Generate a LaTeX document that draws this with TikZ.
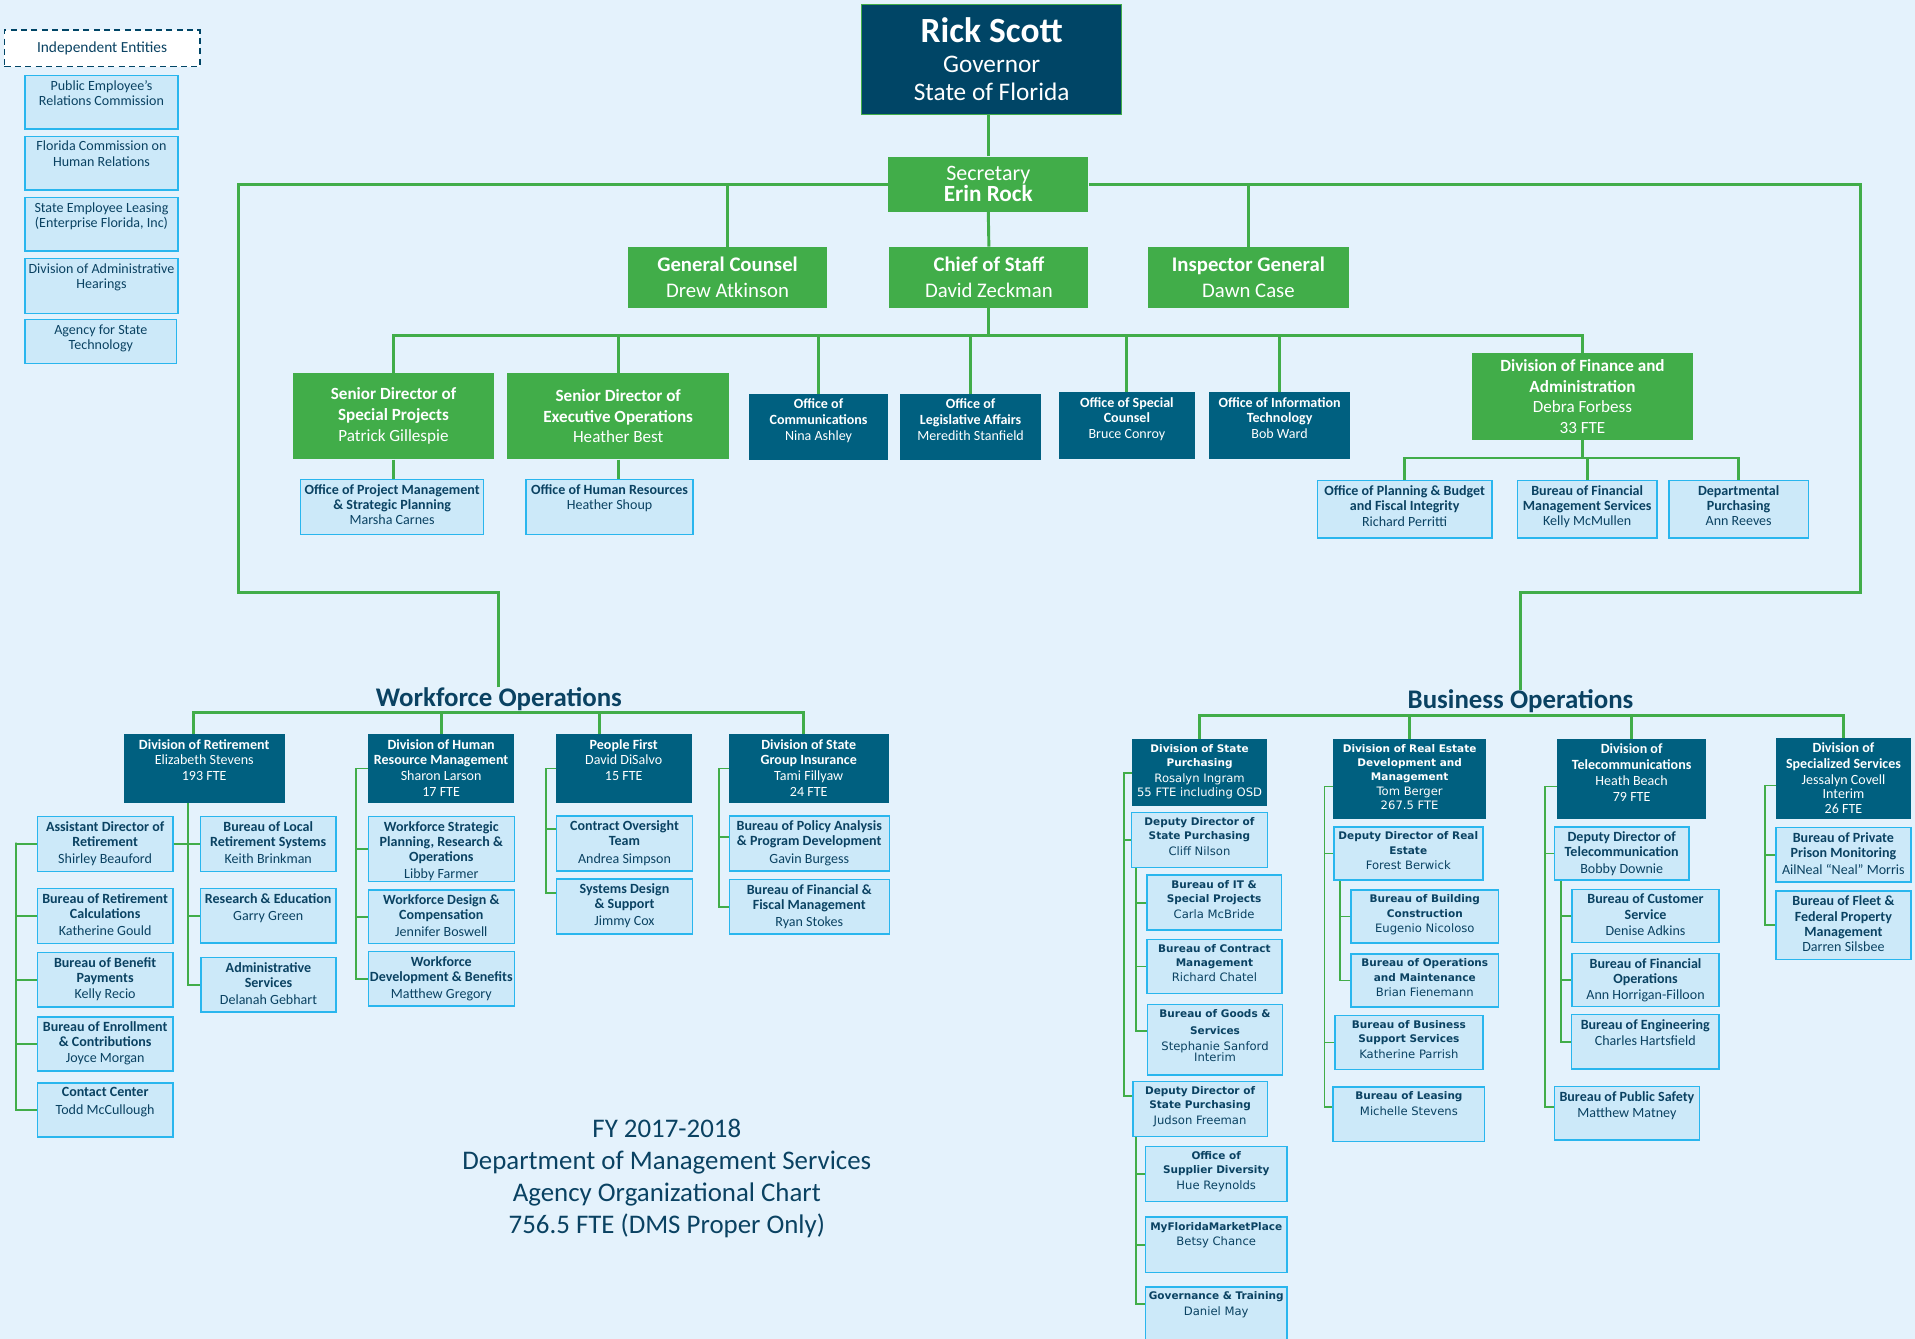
\documentclass[tikz,border=0pt]{standalone}
\usepackage{fontspec}
\setmainfont{Carlito}
\newfontfamily\verdanalike{DejaVu Sans}
\usepackage{tikz}
\usetikzlibrary{calc}
\definecolor{pagebg}{RGB}{228,242,252}
\definecolor{govnavy}{RGB}{0,69,102}
\definecolor{divteal}{RGB}{0,96,128}
\definecolor{orggreen}{RGB}{65,173,73}
\definecolor{unitfill}{RGB}{204,233,249}
\definecolor{unitline}{RGB}{41,182,238}
\definecolor{unitink}{RGB}{10,66,98}
% fixed size box text, set from the top
\newcommand{\boxtxt}[3]{\parbox[c][\dimexpr #2pt-8pt\relax][t]{\dimexpr #1pt-2pt\relax}{\centering #3}}
% bold titles in the wide-font boxes
\newcommand{\vtitle}[1]{{\fontsize{8.6}{11.8}\selectfont\bfseries #1}}

\begin{document}
\begin{tikzpicture}[x=1pt, y=-1pt,
  trunk/.style={draw=orggreen, line width=2.4pt},
  branch/.style={draw=orggreen, line width=1.5pt},
  govbox/.style={rectangle, fill=govnavy, draw=orggreen, line width=1pt, text=white,
                 anchor=north west, inner sep=0pt, align=center,
                 font=\fontsize{20.7}{23}\selectfont},
  gbox/.style={rectangle, fill=orggreen, text=white, anchor=north west,
               inner sep=0pt, align=center},
  dbox/.style={rectangle, fill=divteal, text=white, anchor=north west,
               inner xsep=1pt, inner ysep=4pt, font=\fontsize{11.5}{13}\selectfont},
  ubox/.style={rectangle, draw=unitline, fill=unitfill, line width=1.2pt, text=unitink,
               anchor=north west, inner xsep=1pt, inner ysep=4pt,
               font=\fontsize{11.5}{12.5}\selectfont},
  vdiv/.style={dbox, font=\verdanalike\fontsize{9.5}{11.8}\selectfont},
  vunit/.style={ubox, font=\verdanalike\fontsize{9.5}{11.8}\selectfont},
  optitle/.style={text=unitink, font=\fontsize{22}{26}\selectfont\bfseries, inner sep=0pt},
]
\useasboundingbox (0,0) rectangle (1568,1096);
\fill[pagebg] (0,0) rectangle (1568,1096);

% independent entities
\node[draw=govnavy, dash pattern=on 5pt off 3.5pt, line width=1.2pt, fill=white,
      minimum width=160pt, minimum height=30pt, anchor=north west, text=unitink,
      font=\fontsize{12.6}{14}\selectfont] (ind) at (3,24) {Independent Entities};
\node[ubox] (perc) at (20,61)  {\boxtxt{125}{44}{Public Employee’s\\Relations Commission}};
\node[ubox] (fchr) at (20,111) {\boxtxt{125}{44}{Florida Commission on\\Human Relations}};
\node[ubox] (sel)  at (20,161) {\boxtxt{125}{44}{State Employee Leasing\\(Enterprise Florida, Inc)}};
\node[ubox] (doah) at (20,211) {\boxtxt{125}{45}{Division of Administrative\\Hearings}};
\node[ubox] (ast)  at (20,261) {\boxtxt{124}{36}{Agency for State\\Technology}};

% governor and secretary
\node[govbox, minimum width=213pt, minimum height=90pt] (gov) at (705,3)
  {{\fontsize{29}{30}\selectfont\bfseries Rick Scott}\\[2pt]Governor\\State of Florida};
\node[gbox, minimum width=164pt, minimum height=45pt, font=\fontsize{18}{17.5}\selectfont] (sec) at (727,128)
  {Secretary\\{\fontsize{19}{19}\selectfont\bfseries Erin Rock}};
\node[gbox, minimum width=163pt, minimum height=50pt, font=\fontsize{17}{21}\selectfont] (gc) at (514,202)
  {\textbf{General Counsel}\\Drew Atkinson};
\node[gbox, minimum width=163pt, minimum height=50pt, font=\fontsize{17}{21}\selectfont] (cos) at (728,202)
  {\textbf{Chief of Staff}\\David Zeckman};
\node[gbox, minimum width=164pt, minimum height=50pt, font=\fontsize{17}{21}\selectfont] (ig) at (940,202)
  {\textbf{Inspector General}\\Dawn Case};

% chief of staff level
\node[gbox, minimum width=164pt, minimum height=71pt, font=\fontsize{14}{17}\selectfont] (sdsp) at (240,305)
  {\textbf{Senior Director of}\\\textbf{Special Projects}\\Patrick Gillespie};
\node[gbox, minimum width=182pt, minimum height=71pt, font=\fontsize{14}{17}\selectfont] (sdeo) at (415,305)
  {\textbf{Senior Director of}\\\textbf{Executive Operations}\\Heather Best};
\node[dbox] (ocom) at (613,322.5) {\boxtxt{114}{54}{\textbf{Office of\\Communications}\\Nina Ashley}};
\node[dbox] (ola)  at (737,322.5) {\boxtxt{115}{54}{\textbf{Office of\\Legislative Affairs}\\Meredith Stanfield}};
\node[dbox] (osc)  at (867,321)   {\boxtxt{111}{55}{\textbf{Office of Special\\Counsel}\\Bruce Conroy}};
\node[dbox] (oit)  at (990,321)   {\boxtxt{115}{55}{\textbf{Office of Information\\Technology}\\Bob Ward}};
\node[gbox, minimum width=181pt, minimum height=71pt, font=\fontsize{14}{17}\selectfont] (dfa) at (1205,289)
  {\textbf{Division of Finance and}\\\textbf{Administration}\\Debra Forbess\\33 FTE};

\node[ubox] (opm)  at (245.5,392) {\boxtxt{150}{45}{\textbf{Office of Project Management\\\& Strategic Planning}\\Marsha Carnes}};
\node[ubox] (ohr)  at (430,392)   {\boxtxt{137}{45}{\textbf{Office of Human Resources}\\Heather Shoup}};
\node[ubox] (opb)  at (1078,393)  {\boxtxt{143}{47}{\textbf{Office of Planning \& Budget\\and Fiscal Integrity}\\Richard Perritti}};
\node[ubox] (bfms) at (1242,393)  {\boxtxt{114}{47}{\textbf{Bureau of Financial\\Management Services}\\Kelly McMullen}};
\node[ubox] (dp)   at (1366,393)  {\boxtxt{114}{47}{\textbf{Departmental\\Purchasing}\\Ann Reeves}};

% WORKFORCE
\node[optitle] (wfo) at (408.5,572.5) {Workforce Operations};
\node[dbox] (ret) at (101,601)   {\boxtxt{132}{56}{\textbf{Division of Retirement}\\Elizabeth Stevens\\193 FTE}};
\node[dbox] (hrm) at (301,601)   {\boxtxt{120}{56}{\textbf{Division of Human\\Resource Management}\\Sharon Larson\\17 FTE}};
\node[dbox] (pf)  at (455,601)   {\boxtxt{111}{56}{\textbf{People First}\\David DiSalvo\\15 FTE}};
\node[dbox] (sgi) at (596.5,601) {\boxtxt{131}{56}{\textbf{Division of State\\Group Insurance}\\Tami Fillyaw\\24 FTE}};

\node[ubox] (ad)   at (30,668)    {\boxtxt{111}{45}{\textbf{Assistant Director of\\Retirement}\\[1.5pt]Shirley Beauford}};
\node[ubox] (brc)  at (30,727)    {\boxtxt{111}{45}{\textbf{Bureau of Retirement\\Calculations}\\[1.5pt]Katherine Gould}};
\node[ubox] (bbp)  at (30,779.5)  {\boxtxt{111}{44.5}{\textbf{Bureau of Benefit\\Payments}\\Kelly Recio}};
\node[ubox] (bec)  at (30,832)    {\boxtxt{111}{44.5}{\textbf{Bureau of Enrollment\\\& Contributions}\\Joyce Morgan}};
\node[ubox] (cc)   at (30,886)    {\boxtxt{111}{44.5}{\textbf{Contact Center}\\[1.5pt]Todd McCullough}};
\node[ubox] (blrs) at (163.5,668) {\boxtxt{111}{45}{\textbf{Bureau of Local\\Retirement Systems}\\[1.5pt]Keith Brinkman}};
\node[ubox] (re)   at (163.5,727) {\boxtxt{111}{44.5}{\textbf{Research \& Education}\\[1.5pt]Garry Green}};
\node[ubox] (asv)  at (164,783.5) {\boxtxt{110.5}{44.5}{\textbf{Administrative\\Services}\\[1.5pt]Delanah Gebhart}};

\node[ubox] (wsp)  at (301,668)   {\boxtxt{119.5}{53}{\textbf{Workforce Strategic\\Planning, Research \&\\Operations}\\[1.5pt]Libby Farmer}};
\node[ubox] (wdc)  at (301,728)   {\boxtxt{119.5}{44}{\textbf{Workforce Design \&\\Compensation}\\[1.5pt]Jennifer Boswell}};
\node[ubox] (wdb)  at (301,778.5) {\boxtxt{119.5}{44.5}{\textbf{Workforce\\Development \& Benefits}\\[1.5pt]Matthew Gregory}};

\node[ubox] (cot)  at (455,667.5) {\boxtxt{111.5}{45}{\textbf{Contract Oversight\\Team}\\[1.5pt]Andrea Simpson}};
\node[ubox] (sds)  at (455,719)   {\boxtxt{111.5}{45}{\textbf{Systems Design\\\& Support}\\[1.5pt]Jimmy Cox}};

\node[ubox] (bpa)  at (596.5,667.5) {\boxtxt{131}{45}{\textbf{Bureau of Policy Analysis\\\& Program Development}\\[1.5pt]Gavin Burgess}};
\node[ubox] (bffm) at (596.5,719.5) {\boxtxt{131}{44.5}{\textbf{Bureau of Financial \&\\Fiscal Management}\\[1.5pt]Ryan Stokes}};

% BUSINESS
\node[optitle] (bo) at (1245,574.5) {Business Operations};
\node[vdiv] (dsp) at (927,605)    {\boxtxt{110}{55}{\vtitle{Division of State\\Purchasing}\\[1pt]Rosalyn Ingram\\55 FTE including OSD}};
\node[vunit] (dd1) at (926,664.5) {\boxtxt{111}{45}{\vtitle{Deputy Director of\\State Purchasing}\\[1pt]Cliff Nilson}};
\node[vunit] (bit) at (938.5,716) {\boxtxt{110}{45}{\vtitle{Bureau of IT \&\\Special Projects}\\[1pt]Carla McBride}};
\node[vunit] (bcm) at (938.5,768.5) {\boxtxt{110.5}{44.5}{\vtitle{Bureau of Contract\\Management}\\Richard Chatel}};
\node[vunit] (bgs) at (939,822)   {\boxtxt{110.5}{57.5}{\vtitle{Bureau of Goods \&\\[2pt]Services}\\[1pt]Stephanie Sanford\\[-2pt]Interim}};
\node[vunit] (dd2) at (927,885)   {\boxtxt{110}{45}{\vtitle{Deputy Director of\\State Purchasing}\\[1pt]Judson Freeman}};
\node[vunit] (osd) at (937.5,938) {\boxtxt{115.5}{45}{\vtitle{Office of\\Supplier Diversity}\\[1pt]Hue Reynolds}};
\node[vunit] (mfm) at (937.5,996) {\boxtxt{115.5}{45.5}{\vtitle{MyFloridaMarketPlace}\\[1pt]Betsy Chance}};
\node[vunit] (gt)  at (937.5,1053) {\boxtxt{115.5}{46}{\vtitle{Governance \& Training}\\[1pt]Daniel May}};

\node[vdiv] (dre) at (1091.5,605)  {\boxtxt{125}{65.5}{\vtitle{Division of Real Estate\\Development and\\Management}\\Tom Berger\\267.5 FTE}};
\node[vunit] (dr1) at (1091.5,676.5) {\boxtxt{122}{43.5}{\vtitle{Deputy Director of Real\\Estate}\\[1pt]Forest Berwick}};
\node[vunit] (bbc) at (1105.5,728)   {\boxtxt{121}{43.5}{\vtitle{Bureau of Building\\Construction}\\[1pt]Eugenio Nicoloso}};
\node[vunit] (bom) at (1105.5,780.5) {\boxtxt{121}{43.5}{\vtitle{Bureau of Operations\\and Maintenance}\\[1pt]Brian Fienemann}};
\node[vunit] (bbs) at (1092.5,831)   {\boxtxt{121}{44}{\vtitle{Bureau of Business\\Support Services}\\[1pt]Katherine Parrish}};
\node[vunit] (bl)  at (1091,889.5)   {\boxtxt{124}{44.5}{\vtitle{Bureau of Leasing}\\[1pt]Michelle Stevens}};

\node[dbox] (dt)  at (1275,605)     {\boxtxt{121.5}{65.5}{\textbf{Division of\\Telecommunications}\\Heath Beach\\79 FTE}};
\node[ubox] (ddt) at (1272,676.5)   {\boxtxt{110.5}{43.5}{\textbf{Deputy Director of\\Telecommunication}\\[1pt]Bobby Downie}};
\node[ubox] (bcs) at (1286.5,727.5) {\boxtxt{120.5}{43.5}{\textbf{Bureau of Customer\\Service}\\[1pt]Denise Adkins}};
\node[ubox] (bfo) at (1286.5,780)   {\boxtxt{120.5}{43.5}{\textbf{Bureau of Financial\\Operations}\\[1pt]Ann Horrigan-Filloon}};
\node[ubox] (be)  at (1286,830)     {\boxtxt{121}{44.5}{\textbf{Bureau of Engineering}\\[1pt]Charles Hartsfield}};
\node[ubox] (bps) at (1272,889)     {\boxtxt{119}{44}{\textbf{Bureau of Public Safety}\\[1pt]Matthew Matney}};

\node[dbox] (dss)  at (1454,604)    {\boxtxt{110.5}{66}{\textbf{Division of\\Specialized Services}\\Jessalyn Covell\\[-1.5pt]Interim\\[-1pt]26 FTE}};
\node[ubox] (bppm) at (1453.5,677)  {\boxtxt{110.5}{44.5}{\textbf{Bureau of Private\\Prison Monitoring}\\[1pt]AilNeal “Neal” Morris}};
\node[ubox] (bff)  at (1453.5,729)  {\boxtxt{110.5}{56}{\textbf{Bureau of Fleet \&\\Federal Property\\Management}\\Darren Silsbee}};

\node[text=unitink, font=\fontsize{22}{26.4}\selectfont, align=center] (fy) at (546,965)
  {FY 2017-2018\\Department of Management Services\\Agency Organizational Chart\\756.5 FTE (DMS Proper Only)};

% top connectors
\coordinate (wcorner) at (195,485);
\coordinate (bcorner) at (1523,485);
\draw[trunk] (sec.north) -- (sec.north |- gov.south);
\draw[trunk] (sec.south) -- (cos.north);
\draw[trunk] (gc.north) -- (gc.north |- sec.west);
\draw[trunk] (ig.north) -- (ig.north |- sec.east);
\draw[trunk] (wfo.north) |- (wcorner) |- (sec.west);
\draw[trunk] (bo.north) |- (bcorner) |- (sec.east);

\coordinate (obar) at (808,275);
\foreach \n in {sdsp,sdeo,ocom,ola,osc,oit,dfa}
  \draw[trunk] (cos.south) |- (\n.north |- obar) -- (\n.north);
\draw[trunk] (sdsp.south) -- (sdsp.south |- opm.north);
\draw[trunk] (sdeo.south) -- (sdeo.south |- ohr.north);
\coordinate (fbar) at (1295,375);
\foreach \n in {opb,bfms,dp}
  \draw[trunk] (dfa.south) |- (\n.north |- fbar) -- (\n.north);

% workforce connectors
\coordinate (wbar) at (408,583);
\coordinate (retdrop) at ([xshift=-9pt]ret.north);
\coordinate (pfdrop) at ([xshift=-20pt]pf.north);
\coordinate (sgidrop) at ([xshift=-4pt]sgi.north);
\draw[trunk] (retdrop) |- (wbar) -| (sgidrop);
\draw[trunk] (hrm.north) -- (hrm.north |- wbar);
\draw[trunk] (pfdrop) -- (pfdrop |- wbar);

\coordinate (rtr) at ([xshift=-13pt]ret.south);
\draw[branch] (rtr) |- (asv.west);
\draw[branch] (rtr) |- (re.west);
\draw[branch] (ad.east) -- (blrs.west);
\coordinate (ltr) at (13,690);
\draw[branch] (ad.west) -| (ltr) |- (cc.west);
\foreach \n in {brc,bbp,bec}
  \draw[branch] (\n.west) -- (\n.west -| ltr);
\draw[branch] (hrm.west) -- ++(-9.5,0) |- (wdb.west);
\foreach \n in {wsp,wdc}
  \draw[branch] (\n.west) -- ++(-9.5,0);
\draw[branch] (pf.west) -- ++(-8,0) |- ([yshift=11pt]sds.west);
\draw[branch] ([yshift=12pt]cot.west) -- ++(-8,0);
\draw[branch] (sgi.west) -- ++(-8,0) |- (bffm.west);
\draw[branch] ([yshift=5pt]bpa.west) -- ++(-8,0);

% business connectors
\coordinate (bbar) at (1245,586);
\draw[trunk] (dsp.north) |- (bbar) -| (dss.north);
\foreach \n in {dre,dt}
  \draw[trunk] (\n.north) -- (\n.north |- bbar);

\draw[branch] (dsp.west) -- ++(-7,0) |- ([yshift=11pt]dd2.west);
\draw[branch] (dd1.west) -- ++(-6,0);
\coordinate (d1tr) at ([xshift=4pt]dd1.south west);
\draw[branch] (d1tr) |- ([yshift=7pt]bgs.west);
\foreach \n in {bit,bcm}
  \draw[branch] (\n.west) -- (\n.west -| d1tr);
\coordinate (d2tr) at ([xshift=3pt]dd2.south west);
\draw[branch] (d2tr) |- ([yshift=9pt]gt.west);
\foreach \n in {osd,mfm}
  \draw[branch] (\n.west) -- (\n.west -| d2tr);

\draw[branch] ([yshift=-6pt]dre.west) -- ++(-7,0) |- ([yshift=6pt]bl.west);
\draw[branch] (dr1.west) -- ++(-7,0);
\draw[branch] (bbs.west) -- ++(-8,0);
\coordinate (r1tr) at ([xshift=5.5pt]dr1.south west);
\draw[branch] (r1tr) |- (bom.west);
\draw[branch] (bbc.west) -- (bbc.west -| r1tr);

\draw[branch] ([yshift=-6pt]dt.west) -- ++(-10,0) |- ([yshift=5pt]bps.west);
\draw[branch] (ddt.west) -- ++(-7,0);
\coordinate (t1tr) at ([xshift=6pt]ddt.south west);
\draw[branch] (t1tr) |- (be.west);
\foreach \n in {bcs,bfo}
  \draw[branch] (\n.west) -- (\n.west -| t1tr);

\draw[branch] ([yshift=-6pt]dss.west) -- ++(-9,0) |- (bff.west);
\draw[branch] (bppm.west) -- ++(-8.5,0);
\end{tikzpicture}
\end{document}
